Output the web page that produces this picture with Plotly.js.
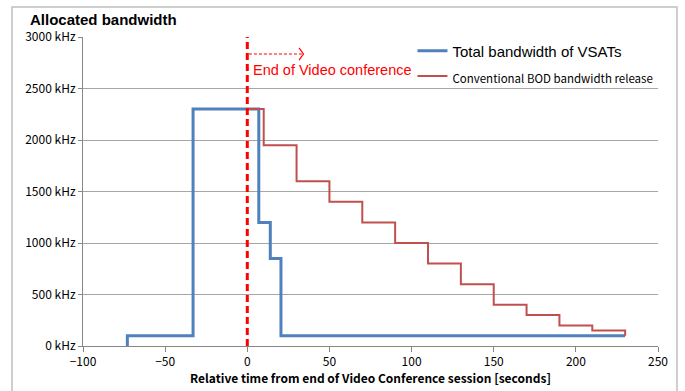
<!DOCTYPE html>
<html>
<head>
<meta charset="utf-8">
<script src="https://cdn.plot.ly/plotly-3.0.1.min.js"></script>
<style>html,body{margin:0;padding:0;background:#fff;}#chart{width:685px;height:391px;}</style>
</head>
<body>
<div id="chart"></div>
<script>
// Total bandwidth of VSATs (step outline), time in seconds, bandwidth in kHz
const vsatTime = [-73, -73, -33, -33, 7, 7, 14, 14, 20.5, 20.5, 230];
const vsatBw   = [0, 100, 100, 2300, 2300, 1200, 1200, 850, 850, 100, 100];

// Conventional BOD bandwidth release (step outline)
const bodTime = [0, 10, 10, 30, 30, 50, 50, 70, 70, 90, 90, 110, 110, 130, 130, 150, 150, 170, 170, 190, 190, 210, 210, 230, 230];
const bodBw   = [2300, 2300, 1950, 1950, 1600, 1600, 1400, 1400, 1200, 1200, 1000, 1000, 800, 800, 600, 600, 400, 400, 300, 300, 200, 200, 150, 150, 100];

// End of video conference marker
const endTime = [0, 0];
const endBw = [0, 3000];

const xTicks = [-100, -50, 0, 50, 100, 150, 200, 250];
const yTicks = [0, 500, 1000, 1500, 2000, 2500, 3000];
const yTickText = yTicks.map(v => v + ' kHz');

const jp = '"Noto Sans CJK JP", "Noto Sans", sans-serif';
const latin = '"Liberation Sans", "Noto Sans", sans-serif';

const traces = [
  {x: vsatTime, y: vsatBw, mode: 'lines',
   name: '<span style="font-size:15px">Total bandwidth of VSATs</span>',
   line: {color: '#4F81BD', width: 3}},
  {x: bodTime, y: bodBw, mode: 'lines',
   name: '<span style="font-size:11.5px;font-family:Noto Sans CJK JP">Conventional BOD bandwidth release</span>',
   line: {color: '#C0504D', width: 2}},
  {x: endTime, y: endBw, mode: 'lines', showlegend: false,
   line: {color: '#FF0000', width: 3, dash: '7px,4px'}}
];

const layout = {
  width: 685, height: 391,
  margin: {l: 83, r: 27, t: 37, b: 45},
  paper_bgcolor: '#fff', plot_bgcolor: '#fff',
  showlegend: true,
  title: {text: '<b>Allocated bandwidth</b>', x: 30/685, xanchor: 'left', xref: 'container',
          y: 1 - 20/391, yanchor: 'middle', yref: 'container',
          font: {family: latin, size: 15, color: '#000'}},
  xaxis: {range: [-100, 250], tickvals: xTicks, showgrid: false, zeroline: false,
          showline: true, linecolor: '#868686', linewidth: 1,
          ticks: 'outside', ticklen: 5, tickcolor: '#868686',
          tickfont: {family: jp, size: 12, color: '#000'},
          title: {text: '<b>Relative time from end of Video Conference session [seconds]</b>',
                  font: {family: jp, size: 12, color: '#000'}, standoff: 2}},
  yaxis: {range: [0, 3000], tickmode: 'array', tickvals: yTicks, ticktext: yTickText, showgrid: true,
          gridcolor: '#A6A6A6', gridwidth: 1, zeroline: false,
          showline: true, linecolor: '#868686', linewidth: 1,
          ticks: 'outside', ticklen: 4, tickcolor: '#868686',
          tickfont: {family: jp, size: 12, color: '#000'}},
  legend: {x: 0.573, y: 1.012, xanchor: 'left', yanchor: 'top', bgcolor: 'rgba(0,0,0,0)',
           font: {family: latin, size: 17, color: '#000'}, itemwidth: 30, tracegroupgap: 0},
  annotations: [
    {x: 2.5, y: 2680, xref: 'x', yref: 'y', text: 'End of Video conference', showarrow: false,
     xanchor: 'left', yanchor: 'middle', font: {family: latin, size: 14.5, color: '#FF0000'}}
  ],
  shapes: [
    {type: 'line', xref: 'x', yref: 'y', x0: 1, x1: 34, y0: 2835, y1: 2835,
     line: {color: '#FF0000', width: 1.2, dash: '3px,2px'}},
    {type: 'path', xref: 'x', yref: 'y', path: 'M 31.5 2895 L 34.2 2835 L 31.5 2775',
     line: {color: '#FF0000', width: 1.2}},
    {type: 'rect', xref: 'paper', yref: 'paper', x0: -0.1235, x1: 1.033, y0: -0.25, y1: 1.097,
     line: {color: '#BFBFBF', width: 1.5}, layer: 'below'}
  ]
};

Plotly.newPlot('chart', traces, layout, {displayModeBar: false, staticPlot: true});
</script>
</body>
</html>
